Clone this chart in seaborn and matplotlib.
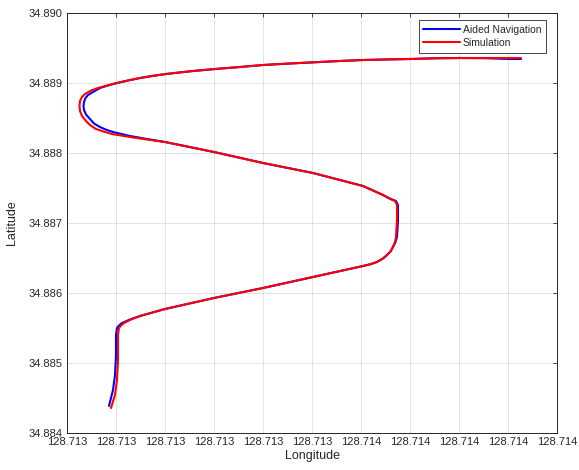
import numpy as np
import pandas as pd
import matplotlib
matplotlib.use("Agg")
import matplotlib.pyplot as plt
import seaborn as sns

# Aided Navigation trajectory (blue)
nav_lon = [128.7130857, 128.7130939, 128.7130980, 128.7131000, 128.7131000, 128.7131020,
           128.7131061, 128.7131122, 128.7131286, 128.7131490, 128.7132000, 128.7133000,
           128.7134000, 128.7135020, 128.7136041, 128.7136184, 128.7136327, 128.7136449,
           128.7136531, 128.7136602, 128.7136653, 128.7136704, 128.7136735, 128.7136755,
           128.7136755, 128.7136714, 128.7136612, 128.7136449, 128.7136041, 128.7135020,
           128.7134000, 128.7133000, 128.7132000, 128.7131633, 128.7131286, 128.7130939,
           128.7130796, 128.7130673, 128.7130551, 128.7130469, 128.7130388, 128.7130347,
           128.7130337, 128.7130347, 128.7130378, 128.7130429, 128.7130531, 128.7130673,
           128.7130837, 128.7131020, 128.7131245, 128.7131490, 128.7131735, 128.7132020,
           128.7132510, 128.7133020, 128.7133531, 128.7134000, 128.7134551, 128.7135163,
           128.7135571, 128.7136041, 128.7136490, 128.7137000, 128.7137510, 128.7138020,
           128.7138531, 128.7139041, 128.7139265]
nav_lat = [34.8843857, 34.8846143, 34.8848286, 34.8851143, 34.8854000, 34.8855000,
           34.8855357, 34.8855714, 34.8856214, 34.8856714, 34.8857714, 34.8859286,
           34.8860714, 34.8862286, 34.8863857, 34.8864100, 34.8864429, 34.8864929,
           34.8865429, 34.8865929, 34.8866571, 34.8867286, 34.8868000, 34.8870429,
           34.8872571, 34.8873143, 34.8873429, 34.8874000, 34.8875286, 34.8877143,
           34.8878571, 34.8880143, 34.8881571, 34.8882000, 34.8882429, 34.8883000,
           34.8883329, 34.8883714, 34.8884214, 34.8884857, 34.8885500, 34.8886143,
           34.8886714, 34.8887286, 34.8887857, 34.8888286, 34.8888714, 34.8889286,
           34.8889643, 34.8890000, 34.8890357, 34.8890714, 34.8891000, 34.8891286,
           34.8891671, 34.8892000, 34.8892286, 34.8892571, 34.8892786, 34.8893000,
           34.8893143, 34.8893286, 34.8893357, 34.8893429, 34.8893529, 34.8893571,
           34.8893543, 34.8893429, 34.8893429]

# Simulation trajectory (red)
sim_lon = [128.7130898, 128.7130980, 128.7131020, 128.7131041, 128.7131041, 128.7131061,
           128.7131102, 128.7131163, 128.7131306, 128.7131490, 128.7132000, 128.7133000,
           128.7134000, 128.7135020, 128.7136041, 128.7136184, 128.7136327, 128.7136449,
           128.7136531, 128.7136602, 128.7136653, 128.7136694, 128.7136714, 128.7136735,
           128.7136735, 128.7136694, 128.7136592, 128.7136449, 128.7136041, 128.7135020,
           128.7134000, 128.7133000, 128.7132000, 128.7131633, 128.7131286, 128.7130918,
           128.7130755, 128.7130592, 128.7130469, 128.7130388, 128.7130306, 128.7130265,
           128.7130255, 128.7130265, 128.7130306, 128.7130367, 128.7130490, 128.7130633,
           128.7130816, 128.7131020, 128.7131245, 128.7131490, 128.7131735, 128.7132020,
           128.7132510, 128.7133020, 128.7133531, 128.7134000, 128.7134551, 128.7135163,
           128.7135571, 128.7136041, 128.7136490, 128.7137000, 128.7137510, 128.7138020,
           128.7138531, 128.7139041, 128.7139265]
sim_lat = [34.8843571, 34.8845429, 34.8847571, 34.8850429, 34.8854000, 34.8855000,
           34.8855357, 34.8855714, 34.8856214, 34.8856714, 34.8857714, 34.8859286,
           34.8860714, 34.8862286, 34.8863857, 34.8864100, 34.8864429, 34.8864929,
           34.8865429, 34.8865929, 34.8866571, 34.8867286, 34.8868000, 34.8870429,
           34.8872571, 34.8873143, 34.8873429, 34.8874000, 34.8875286, 34.8877143,
           34.8878571, 34.8880143, 34.8881571, 34.8881929, 34.8882286, 34.8882714,
           34.8883043, 34.8883429, 34.8884000, 34.8884571, 34.8885286, 34.8886000,
           34.8886714, 34.8887429, 34.8888000, 34.8888429, 34.8888929, 34.8889286,
           34.8889643, 34.8890000, 34.8890357, 34.8890714, 34.8891000, 34.8891286,
           34.8891671, 34.8892000, 34.8892286, 34.8892571, 34.8892786, 34.8893000,
           34.8893143, 34.8893286, 34.8893357, 34.8893429, 34.8893529, 34.8893571,
           34.8893571, 34.8893571, 34.8893571]

series_names = ["Aided Navigation", "Simulation"]
x_ticks = [128.7130, 128.7131, 128.7132, 128.7133, 128.7134, 128.7135,
           128.7136, 128.7137, 128.7138, 128.7139, 128.7140]
x_tick_labels = ["128.713"] * 6 + ["128.714"] * 5
y_ticks = [34.884, 34.885, 34.886, 34.887, 34.888, 34.889, 34.890]
y_tick_labels = ["34.884", "34.885", "34.886", "34.887", "34.888", "34.889", "34.890"]

df = pd.concat([
    pd.DataFrame({"lon": nav_lon, "lat": nav_lat, "series": series_names[0]}),
    pd.DataFrame({"lon": sim_lon, "lat": sim_lat, "series": series_names[1]}),
], ignore_index=True)

sns.set_style("white")
plt.rcParams["font.family"] = ["Liberation Sans", "DejaVu Sans"]

fig = plt.figure(figsize=(5.79, 4.70), dpi=100)
ax = fig.add_axes([67 / 579, 37 / 470, 490 / 579, 420 / 470])

sns.lineplot(data=df, x="lon", y="lat", hue="series", sort=False, estimator=None,
             units="series", palette={"Aided Navigation": "#0000ff", "Simulation": "#ff0000"},
             linewidth=1.5, ax=ax, legend=True)
for ln in ax.get_lines():
    ln.set_solid_joinstyle("round")
    ln.set_solid_capstyle("round")

ax.set_xlim(128.713, 128.714)
ax.set_ylim(34.884, 34.890)
ax.set_xticks(x_ticks)
ax.set_xticklabels(x_tick_labels)
ax.set_yticks(y_ticks)
ax.set_yticklabels(y_tick_labels)
ax.grid(True, color="#000000", alpha=0.13, linewidth=0.6)
ax.tick_params(direction="in", length=3, width=0.6, colors="#262626",
               labelsize=8, top=True, right=True, pad=3)
for tl in ax.get_xticklabels() + ax.get_yticklabels():
    tl.set_color("#262626")
for s in ax.spines.values():
    s.set_color("#262626")
    s.set_linewidth(0.7)
ax.set_xlabel("Longitude", fontsize=9, color="#262626", labelpad=2)
ax.set_ylabel("Latitude", fontsize=9, color="#262626", labelpad=8)

leg = ax.legend(loc="upper right", bbox_to_anchor=((546 - 67) / 490, (433 - 20) / 420),
                borderaxespad=0, fontsize=7.5, frameon=True, fancybox=False,
                edgecolor="#262626", framealpha=1, handlelength=3.5, handletextpad=0.3,
                borderpad=0.45, labelspacing=0.3)
leg.get_frame().set_linewidth(0.6)
for line in leg.get_lines():
    line.set_linewidth(1.5)

fig.savefig("out.png", dpi=100)
